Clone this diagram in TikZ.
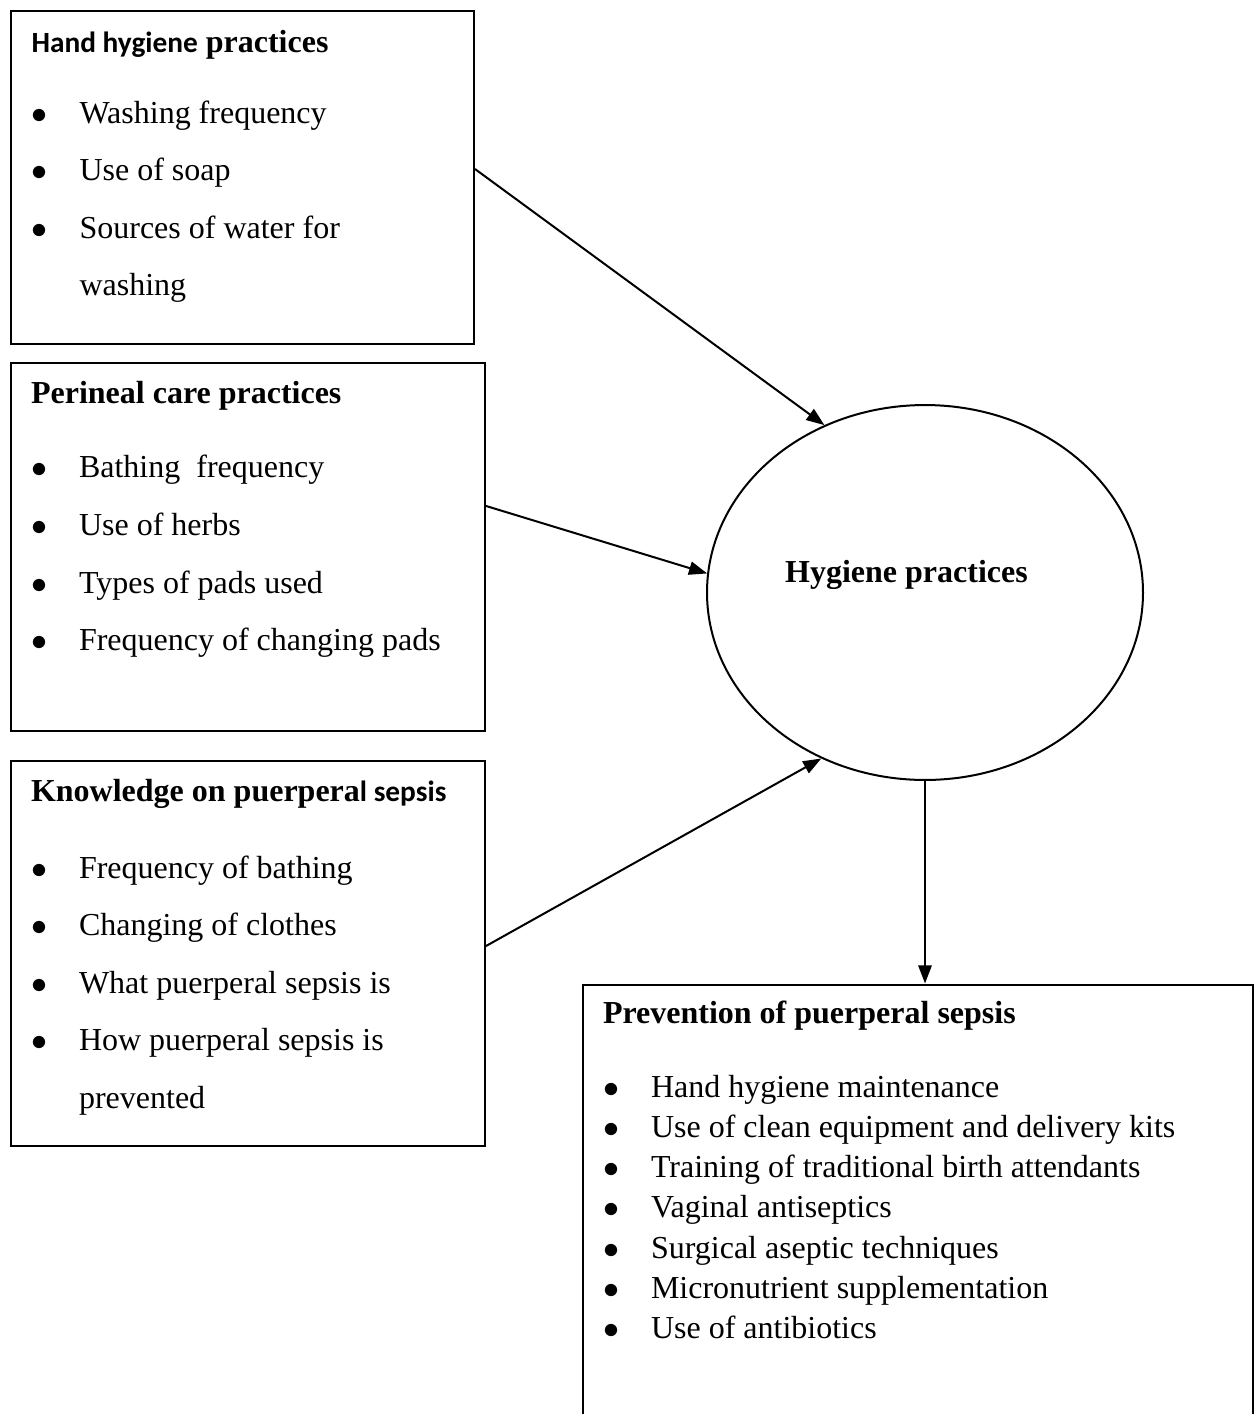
\documentclass[tikz,border=0pt]{standalone}
\usepackage{fontspec}
\setmainfont{Liberation Serif}
\newfontfamily\calibri{Carlito}
\usetikzlibrary{shapes.geometric, arrows.meta}

\tikzstyle{factor} = [rectangle, draw=black, line width=0.75pt, inner sep=0pt, anchor=north west]
\tikzstyle{central} = [ellipse, draw=black, line width=0.75pt, inner sep=0pt, minimum width=163.5pt, minimum height=140.6pt, font=\fontsize{12}{14}\selectfont\bfseries]
\tikzstyle{arrow} = [line width=0.75pt,->,>={Triangle[length=6.8pt,width=5pt]}]

\newcommand{\bul}{\makebox[18pt][l]{$\bullet$}}
\newcommand{\wrapind}{\hspace*{18pt}}

\begin{document}
\begin{tikzpicture}[x=0.375pt, y=-0.375pt]
\useasboundingbox (0,0) rectangle (1258,1414);

\node (hand) [factor] at (9.5,10) {\parbox[t][124.9pt][t]{173.8pt}{\fontsize{12}{21.6}\selectfont\leftskip=7.9pt
\rule{0pt}{15.4pt}\textbf{{\calibri\fontsize{11}{11}\selectfont Hand hygiene} practices}\\[5pt]
\bul Washing frequency\\
\bul Use of soap\\
\bul Sources of water for\\
\wrapind washing}};

\node (peri) [factor] at (9.5,362) {\parbox[t][138pt][t]{177.9pt}{\fontsize{12}{21.6}\selectfont\leftskip=7.7pt
\rule{0pt}{15pt}\textbf{Perineal care practices}\\[6.5pt]
\bul Bathing~ frequency\\
\bul Use of herbs\\
\bul Types of pads used\\
\bul Frequency of changing pads}};

\node (know) [factor] at (9.5,760) {\parbox[t][144.4pt][t]{177.9pt}{\fontsize{12}{21.6}\selectfont\leftskip=7.7pt
\rule{0pt}{15pt}\textbf{Knowledge on puerpera{\calibri\fontsize{11}{11}\selectfont l sepsis}}\\[7.3pt]
\bul Frequency of bathing\\
\bul Changing of clothes\\
\bul What puerperal sepsis is\\
\bul How puerperal sepsis is\\
\wrapind prevented}};

\node (hyg) [central] at (925,592.5) {\raisebox{16.2pt}{Hygiene practices}\hspace*{13.9pt}};

\node (prev) [factor] at (581.5,983.5) {\parbox[t][165pt][t]{251.4pt}{\fontsize{12}{15.1}\selectfont\leftskip=7.7pt
\rule{0pt}{14.8pt}\textbf{Prevention of puerperal sepsis}\\[12.3pt]
\bul Hand hygiene maintenance\\
\bul Use of clean equipment and delivery kits\\
\bul Training of traditional birth attendants\\
\bul Vaginal antiseptics\\
\bul Surgical aseptic techniques\\
\bul Micronutrient supplementation\\
\bul Use of antibiotics}};

\draw [arrow] ([yshift=3.2pt]hand.east) -- (hyg.121);
\draw [arrow] ([yshift=15.4pt]peri.east) -- (hyg.175);
\draw [arrow] ([yshift=2.8pt]know.east) -- (hyg.238);
\draw [arrow] (hyg.south) -- (hyg.south |- prev.north);

\end{tikzpicture}
\end{document}
